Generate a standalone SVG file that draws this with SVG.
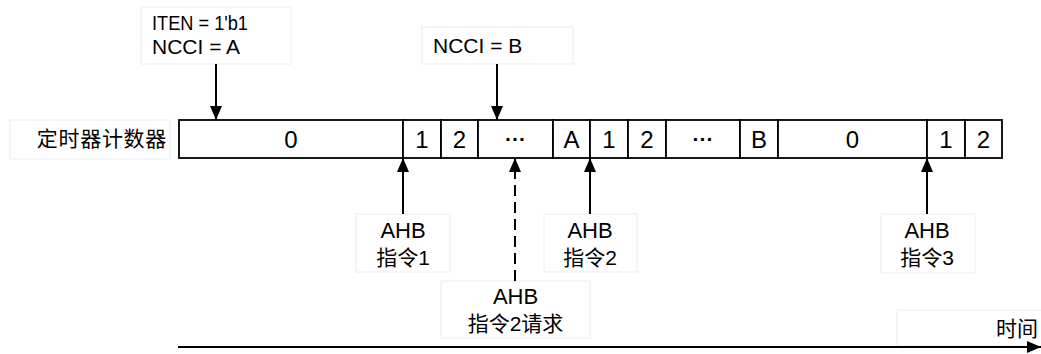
<svg xmlns="http://www.w3.org/2000/svg" width="1041" height="354" viewBox="0 0 1041 354">
<style>
.lbl{fill:#fff;stroke:#e6ecf4;stroke-width:1}
.t{font-family:"Liberation Sans","Noto Sans CJK SC",Arial,sans-serif;font-size:21px;fill:#000}
.n{font-size:22px}
.d{font-size:24px}
.c{text-anchor:middle}
.cell{fill:#fff;stroke:#000;stroke-width:1.8}
.ln{stroke:#000;stroke-width:2;fill:none}
</style>
<defs>
<marker id="ah" viewBox="0 0 14 12" refX="14" refY="6" markerWidth="14" markerHeight="12" markerUnits="userSpaceOnUse" orient="auto">
<path d="M0,0 L14,6 L0,12 z" fill="#000"/>
</marker>
</defs>
<rect width="1041" height="354" fill="#fff"/>

<g id="counter-label">
<rect class="lbl" x="10" y="120" width="160" height="39"/>
<text class="t" x="167" y="146" text-anchor="end" font-size="20" letter-spacing="0.7">定时器计数器</text>
</g>

<g id="counter">
<rect class="cell" x="179" y="120" width="224" height="38"/>
<text class="t d c" x="291" y="148">0</text>
<rect class="cell" x="403" y="120" width="38" height="38"/>
<text class="t d c" x="422" y="148">1</text>
<rect class="cell" x="441" y="120" width="37" height="38"/>
<text class="t d c" x="459.5" y="148">2</text>
<rect class="cell" x="478" y="120" width="75" height="38"/>
<text class="t c" x="515.5" y="146" font-weight="bold" font-size="24">···</text>
<rect class="cell" x="553" y="120" width="37" height="38"/>
<text class="t d c" x="571.5" y="148">A</text>
<rect class="cell" x="590" y="120" width="38" height="38"/>
<text class="t d c" x="609" y="148">1</text>
<rect class="cell" x="628" y="120" width="38" height="38"/>
<text class="t d c" x="647" y="148">2</text>
<rect class="cell" x="666" y="120" width="74" height="38"/>
<text class="t c" x="703" y="146" font-weight="bold" font-size="24">···</text>
<rect class="cell" x="740" y="120" width="38" height="38"/>
<text class="t d c" x="759" y="148">B</text>
<rect class="cell" x="778" y="120" width="149" height="38"/>
<text class="t d c" x="852.5" y="148">0</text>
<rect class="cell" x="927" y="120" width="38" height="38"/>
<text class="t d c" x="946" y="148">1</text>
<rect class="cell" x="965" y="120" width="37" height="38"/>
<text class="t d c" x="983.5" y="148">2</text>
</g>

<g id="note-iten">
<rect class="lbl" x="141" y="7" width="150" height="57"/>
<text class="t" x="152" y="30" textLength="96" lengthAdjust="spacingAndGlyphs">ITEN = 1'b1</text>
<text class="t" x="152" y="54">NCCI = A</text>
</g>

<g id="note-nccib">
<rect class="lbl" x="422" y="27" width="151" height="37"/>
<text class="t" x="433" y="53">NCCI = B</text>
</g>

<g id="ahb1">
<rect class="lbl" x="356" y="214" width="94" height="58"/>
<text class="t n c" x="403" y="238">AHB</text>
<text class="t c" x="403" y="265">指令1</text>
</g>

<g id="ahb2req">
<rect class="lbl" x="441" y="281" width="149" height="57"/>
<text class="t n c" x="515.5" y="304">AHB</text>
<text class="t c" x="515.5" y="331">指令2请求</text>
</g>

<g id="ahb2">
<rect class="lbl" x="544" y="214" width="93" height="58"/>
<text class="t n c" x="590" y="238">AHB</text>
<text class="t c" x="590" y="265">指令2</text>
</g>

<g id="ahb3">
<rect class="lbl" x="881" y="214" width="94" height="59"/>
<text class="t n c" x="927" y="238">AHB</text>
<text class="t c" x="927" y="265">指令3</text>
</g>

<g id="time-label">
<rect class="lbl" x="897" y="310" width="150" height="36"/>
<text class="t" x="1038" y="336" text-anchor="end">时间</text>
</g>

<g id="connectors">
<line class="ln" x1="216" y1="64" x2="216" y2="120" marker-end="url(#ah)"/>
<line class="ln" x1="497" y1="64" x2="497" y2="120" marker-end="url(#ah)"/>
<line class="ln" x1="403" y1="214" x2="403" y2="158" marker-end="url(#ah)"/>
<line class="ln" x1="515" y1="281" x2="515" y2="158" stroke-dasharray="11,6" marker-end="url(#ah)"/>
<line class="ln" x1="590" y1="214" x2="590" y2="158" marker-end="url(#ah)"/>
<line class="ln" x1="927" y1="214" x2="927" y2="158" marker-end="url(#ah)"/>
<line class="ln" x1="178" y1="347" x2="1041" y2="347" marker-end="url(#ah)"/>
</g>
</svg>
